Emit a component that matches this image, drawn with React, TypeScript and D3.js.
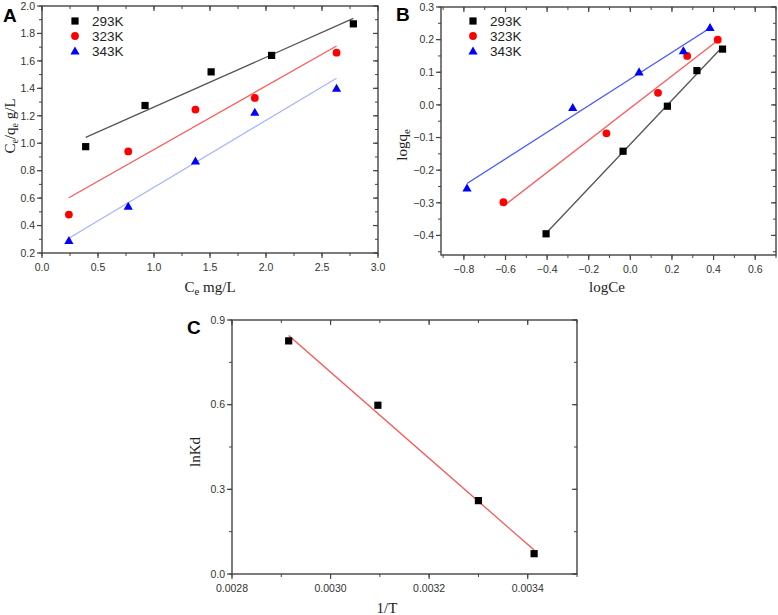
import React from "react";
import * as d3 from "d3";

// ---------- Data ----------
const seriesNames = ["293K", "323K", "343K"];

// Panel A: Ce vs Ce/qe
const aX293 = [0.39, 0.92, 1.51, 2.05, 2.78];
const aY293 = [0.975, 1.275, 1.52, 1.64, 1.87];
const aX323 = [0.24, 0.77, 1.37, 1.90, 2.63];
const aY323 = [0.48, 0.94, 1.245, 1.33, 1.66];
const aX343 = [0.24, 0.77, 1.37, 1.90, 2.63];
const aY343 = [0.29, 0.54, 0.87, 1.225, 1.40];

// Panel B: logCe vs logqe
const bX293 = [-0.405, -0.035, 0.178, 0.32, 0.443];
const bY293 = [-0.395, -0.142, -0.004, 0.105, 0.171];
const bX323 = [-0.61, -0.115, 0.133, 0.273, 0.42];
const bY323 = [-0.298, -0.087, 0.037, 0.15, 0.2];
const bX343 = [-0.785, -0.277, 0.042, 0.255, 0.383];
const bY343 = [-0.255, -0.008, 0.101, 0.166, 0.237];

// Panel C: 1/T vs lnKd
const cX = [0.002915, 0.003096, 0.0033, 0.003413];
const cY = [0.826, 0.598, 0.26, 0.072];

// Tick values
const aXTicks = [0, 0.5, 1.0, 1.5, 2.0, 2.5, 3.0];
const aYTicks = [0.2, 0.4, 0.6, 0.8, 1.0, 1.2, 1.4, 1.6, 1.8, 2.0];
const bXTicks = [-0.8, -0.6, -0.4, -0.2, 0.0, 0.2, 0.4, 0.6];
const bYTicks = [-0.4, -0.3, -0.2, -0.1, 0.0, 0.1, 0.2, 0.3];
const cXTicks = [0.0028, 0.003, 0.0032, 0.0034];
const cYTicks = [0, 0.3, 0.6, 0.9];

// ---------- Helpers ----------
function fit(xs: number[], ys: number[]) {
  const mx = d3.mean(xs)!;
  const my = d3.mean(ys)!;
  let sxy = 0, sxx = 0;
  xs.forEach((x, i) => { sxy += (x - mx) * (ys[i] - my); sxx += (x - mx) * (x - mx); });
  const k = sxy / sxx;
  const b = my - k * mx;
  const x0 = d3.min(xs)!, x1 = d3.max(xs)!;
  return [[x0, k * x0 + b], [x1, k * x1 + b]] as [number, number][];
}

const AX = "#444";
const TICKFONT = "'Liberation Sans', Arial, sans-serif";
const SERIF = "'Liberation Serif', 'Times New Roman', serif";

function Marker({ kind, x, y, color }: { kind: string; x: number; y: number; color: string }) {
  if (kind === "square") return <rect x={x - 3.6} y={y - 3.6} width={7.2} height={7.2} fill={color} />;
  if (kind === "circle") return <circle cx={x} cy={y} r={3.9} fill={color} />;
  const s = 4.6;
  return <path d={`M${x},${y - s}L${x + s},${y + s * 0.75}L${x - s},${y + s * 0.75}Z`} fill={color} />;
}

type Series = { xs: number[]; ys: number[]; kind: string; color: string; lineColor: string; name?: string };

function Frame({
  left, right, top, bottom, xDomain, yDomain, xTicks, yTicks, xMinorStep, yMinorStep, xFmt, yFmt, series, legend, legendX, legendY,
}: any) {
  const x = d3.scaleLinear().domain(xDomain).range([left, right]);
  const y = d3.scaleLinear().domain(yDomain).range([bottom, top]);
  const xMinor = d3.range(Math.ceil(xDomain[0] / xMinorStep - 1e-9), Math.floor(xDomain[1] / xMinorStep + 1e-9) + 1).map((i) => i * xMinorStep);
  const yMinor = d3.range(Math.ceil(yDomain[0] / yMinorStep - 1e-9), Math.floor(yDomain[1] / yMinorStep + 1e-9) + 1).map((i) => i * yMinorStep);
  const line = d3.line<[number, number]>().x((d) => x(d[0])).y((d) => y(d[1]));
  return (
    <g>
      {series.map((s: Series, i: number) => (
        <path key={"l" + i} d={line(fit(s.xs, s.ys))!} stroke={s.lineColor} strokeWidth={1.3} fill="none" />
      ))}
      {series.map((s: Series, i: number) =>
        s.xs.map((v, j) => <Marker key={"p" + i + "-" + j} kind={s.kind} x={x(v)} y={y(s.ys[j])} color={s.color} />)
      )}
      <rect x={left} y={top} width={right - left} height={bottom - top} fill="none" stroke={AX} strokeWidth={1.4} />
      {xMinor.map((v: number, i: number) => (
        <g key={"xm" + i}>
          <line x1={x(v)} x2={x(v)} y1={bottom} y2={bottom + 3} stroke={AX} strokeWidth={1} />
          <line x1={x(v)} x2={x(v)} y1={top} y2={top + 3} stroke={AX} strokeWidth={1} />
        </g>
      ))}
      {yMinor.map((v: number, i: number) => (
        <g key={"ym" + i}>
          <line x1={left - 3} x2={left} y1={y(v)} y2={y(v)} stroke={AX} strokeWidth={1} />
          <line x1={right - 3} x2={right} y1={y(v)} y2={y(v)} stroke={AX} strokeWidth={1} />
        </g>
      ))}
      {xTicks.map((v: number, i: number) => (
        <g key={"xt" + i}>
          <line x1={x(v)} x2={x(v)} y1={bottom} y2={bottom + 5} stroke={AX} strokeWidth={1.2} />
          <line x1={x(v)} x2={x(v)} y1={top} y2={top + 5} stroke={AX} strokeWidth={1.2} />
          <text x={x(v)} y={bottom + 18} textAnchor="middle" fontSize={10.5} fontFamily={TICKFONT} fill="#333">{xFmt(v)}</text>
        </g>
      ))}
      {yTicks.map((v: number, i: number) => (
        <g key={"yt" + i}>
          <line x1={left - 5} x2={left} y1={y(v)} y2={y(v)} stroke={AX} strokeWidth={1.2} />
          <line x1={right - 5} x2={right} y1={y(v)} y2={y(v)} stroke={AX} strokeWidth={1.2} />
          <text x={left - 7} y={y(v) + 3.8} textAnchor="end" fontSize={10.5} fontFamily={TICKFONT} fill="#333">{yFmt(v)}</text>
        </g>
      ))}
      {legend && series.map((s: Series, i: number) => (
        <g key={"lg" + i}>
          <Marker kind={s.kind} x={legendX} y={legendY + i * 15} color={s.color} />
          <text x={legendX + 17} y={legendY + i * 15 + 5} fontSize={13.5} fontFamily={TICKFONT} fill="#222">{s.name}</text>
        </g>
      ))}
    </g>
  );
}

export default function App() {
  const f1 = d3.format(".1f");
  const f4 = d3.format(".4f");
  const kinds = ["square", "circle", "triangle"];
  const colors = ["#000000", "#ff0000", "#0000ff"];
  const seriesA: Series[] = [
    { xs: aX293, ys: aY293, kind: kinds[0], color: colors[0], lineColor: "#555555", name: seriesNames[0] },
    { xs: aX323, ys: aY323, kind: kinds[1], color: colors[1], lineColor: "#ff5a5a", name: seriesNames[1] },
    { xs: aX343, ys: aY343, kind: kinds[2], color: colors[2], lineColor: "#aab4ff", name: seriesNames[2] },
  ];
  const seriesB: Series[] = [
    { xs: bX293, ys: bY293, kind: kinds[0], color: colors[0], lineColor: "#555555", name: seriesNames[0] },
    { xs: bX323, ys: bY323, kind: kinds[1], color: colors[1], lineColor: "#ff5a5a", name: seriesNames[1] },
    { xs: bX343, ys: bY343, kind: kinds[2], color: colors[2], lineColor: "#4a55ff", name: seriesNames[2] },
  ];
  const seriesC: Series[] = [
    { xs: cX, ys: cY, kind: "square", color: "#000000", lineColor: "#ff5050" },
  ];
  return (
    <svg width={778} height={615} style={{ position: "absolute", left: 0, top: 0, background: "#fff" }}>
      <rect width={778} height={615} fill="#fff" />
      {/* Panel A */}
      <Frame left={42} right={378} top={6} bottom={253} xDomain={[0, 3]} yDomain={[0.2, 2.0]}
        xTicks={aXTicks} yTicks={aYTicks} xMinorStep={0.25} yMinorStep={0.1} xFmt={f1} yFmt={f1}
        series={seriesA} legend legendX={75} legendY={21} />
      <text x={3} y={22} fontSize={19} fontWeight="bold" fontFamily={TICKFONT}>A</text>
      <text x={210} y={292} textAnchor="middle" fontSize={15} fontFamily={SERIF} fill="#222">
        C<tspan fontSize={11} dy={3}>e</tspan><tspan dy={-3}> mg/L</tspan>
      </text>
      <text transform="translate(15,126) rotate(-90)" textAnchor="middle" fontSize={15} fontFamily={SERIF} fill="#222">
        C<tspan fontSize={10} dy={3}>e</tspan><tspan dy={-3}>/q</tspan><tspan fontSize={10} dy={3}>e</tspan><tspan dy={-3}> g/L</tspan>
      </text>

      {/* Panel B */}
      <Frame left={441} right={776} top={7} bottom={255} xDomain={[-0.91, 0.7]} yDomain={[-0.46, 0.3]}
        xTicks={bXTicks} yTicks={bYTicks} xMinorStep={0.1} yMinorStep={0.05} xFmt={f1} yFmt={f1}
        series={seriesB} legend legendX={473} legendY={21} />
      <text x={396} y={21} fontSize={19} fontWeight="bold" fontFamily={TICKFONT}>B</text>
      <text x={607} y={292} textAnchor="middle" fontSize={15} fontFamily={SERIF} fill="#222">logCe</text>
      <text transform="translate(407,145) rotate(-90)" textAnchor="middle" fontSize={15} fontFamily={SERIF} fill="#222">
        logq<tspan fontSize={11} dy={3}>e</tspan>
      </text>

      {/* Panel C */}
      <Frame left={232} right={577} top={320} bottom={574} xDomain={[0.0028, 0.0035]} yDomain={[0, 0.9]}
        xTicks={cXTicks} yTicks={cYTicks} xMinorStep={0.0001} yMinorStep={0.15} xFmt={f4} yFmt={f1}
        series={seriesC} legend={false} />
      <text x={187} y={334} fontSize={19} fontWeight="bold" fontFamily={TICKFONT}>C</text>
      <text x={387} y={613} textAnchor="middle" fontSize={15} fontFamily={SERIF} fill="#222">1/T</text>
      <text transform="translate(200,452) rotate(-90)" textAnchor="middle" fontSize={15} fontFamily={SERIF} fill="#222">lnKd</text>
    </svg>
  );
}
